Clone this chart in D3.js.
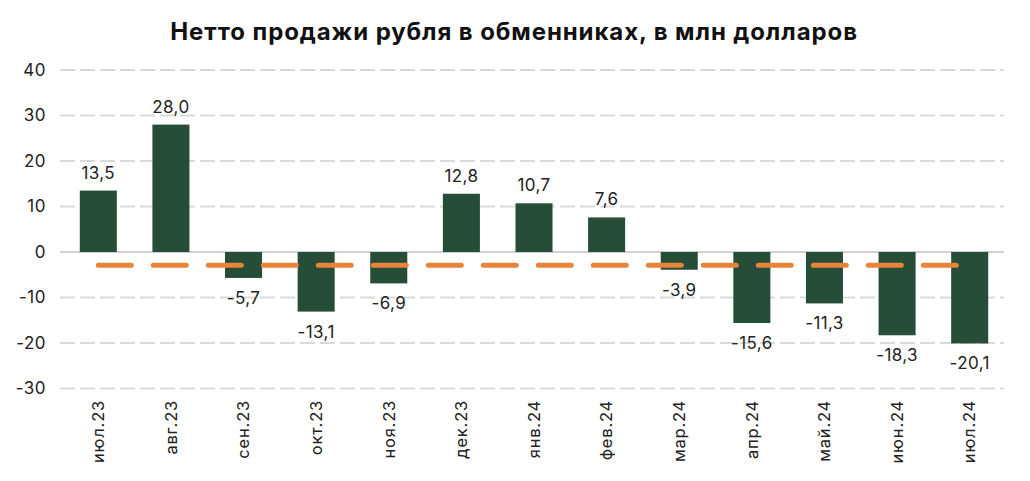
<!DOCTYPE html>
<html><head><meta charset="utf-8">
<script src="https://cdn.jsdelivr.net/npm/d3@7"></script>
<style>body{margin:0;background:#fff}svg{display:block}</style>
</head><body><svg id="c" width="1030" height="481"></svg>
<script>
const categories = ["июл.23","авг.23","сен.23","окт.23","ноя.23","дек.23","янв.24","фев.24","мар.24","апр.24","май.24","июн.24","июл.24"];
const values = [13.5, 28.0, -5.7, -13.1, -6.9, 12.8, 10.7, 7.6, -3.9, -15.6, -11.3, -18.3, -20.1];
const avgLine = [-2.9,-2.9,-2.9,-2.9,-2.9,-2.9,-2.9,-2.9,-2.9,-2.9,-2.9,-2.9,-2.9];
const yTicks = [40, 30, 20, 10, 0, -10, -20, -30];
const title = "Нетто продажи рубля в обменниках, в млн долларов";

const svg = d3.select("#c");
const font = "Inter, 'Open Sans', sans-serif";
const x = d3.scaleBand().domain(categories).range([62, 1006]).paddingInner(0.49).paddingOuter(0.245);
const y = d3.scaleLinear().domain([-30, 40]).range([388.5, 70]);
const fmt = v => d3.format(".1f")(v).replace(".", ",").replace("−","-");

svg.append("text").attr("x", 514).attr("y", 40).attr("text-anchor","middle")
  .attr("font-family", font).attr("font-weight", 700).attr("font-size", 24).attr("letter-spacing", 0.9)
  .attr("fill","#111").text(title);

// grid
const g = svg.append("g");
g.selectAll("line.grid").data(yTicks).join("line")
  .attr("x1", 60).attr("x2", 1004)
  .attr("y1", d => y(d)).attr("y2", d => y(d))
  .attr("stroke", d => d === 0 ? "#d0d0d0" : "#d9d9d9")
  .attr("stroke-width", 2)
  .attr("stroke-dasharray", d => d === 0 ? null : "15,5");

// y labels
const yAxis = d3.axisLeft(y).tickValues(yTicks).tickSize(0).tickPadding(0).tickFormat(d => d3.format("d")(d).replace("−","-"));
const ya = svg.append("g").attr("transform","translate(46,0)").call(yAxis);
ya.select(".domain").remove();
ya.selectAll("text").attr("font-family", font).attr("font-size", 17).attr("letter-spacing", 0.5).attr("fill","#222");

// bars
svg.selectAll("rect.bar").data(values).join("rect")
  .attr("x", (d,i) => x(categories[i])).attr("width", x.bandwidth())
  .attr("y", d => y(Math.max(0,d))).attr("height", d => Math.abs(y(d) - y(0)))
  .attr("fill", "#264d37");

// avg line
const line = d3.line().x((d,i) => x(categories[i]) + x.bandwidth()/2).y(d => y(d));
svg.append("path").datum(avgLine).attr("d", line).attr("fill","none")
  .attr("stroke","#e8843a").attr("stroke-width",5).attr("stroke-linecap","round").attr("stroke-dasharray","33,22");

// value labels
svg.selectAll("text.val").data(values).join("text")
  .attr("x", (d,i) => x(categories[i]) + x.bandwidth()/2)
  .attr("y", d => d >= 0 ? y(d) - 12 : y(d) + 26)
  .attr("text-anchor","middle").attr("font-family", font).attr("font-size", 17).attr("letter-spacing", 0.4).attr("fill","#222")
  .text(d => fmt(d));

// x labels
const xa = svg.append("g").attr("transform","translate(0,398)")
  .call(d3.axisBottom(x).tickSize(0).tickPadding(0));
xa.select(".domain").remove();
xa.selectAll("text").attr("font-family", font).attr("font-size", 16.5).attr("letter-spacing", 0.8).attr("fill","#222")
  .attr("transform","rotate(-90)").attr("text-anchor","end").attr("x", -2).attr("y", 0).attr("dy","0.35em");
</script></body></html>
